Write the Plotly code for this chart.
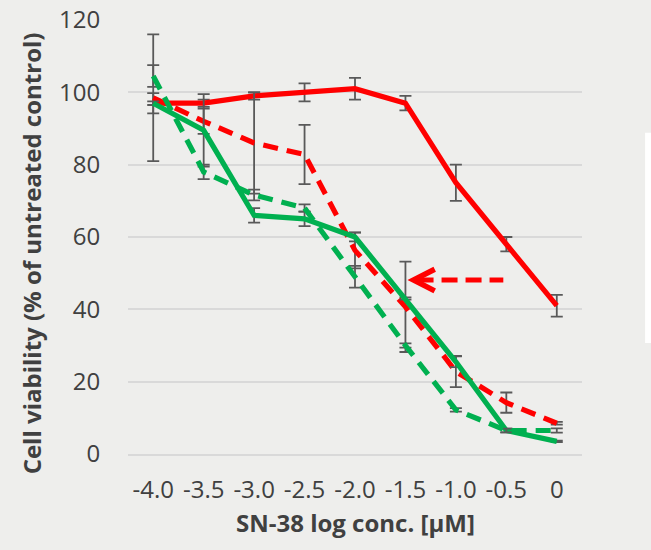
import plotly.graph_objects as go

# ---- data ----
log_conc = [-4.0, -3.5, -3.0, -2.5, -2.0, -1.5, -1.0, -0.5, 0.0]
tick_labels = ["-4.0", "-3.5", "-3.0", "-2.5", "-2.0", "-1.5", "-1.0", "-0.5", "0"]

red_solid = [97.0, 97.0, 99.0, 100.0, 101.0, 97.0, 75.0, 58.0, 41.0]
red_solid_err = [2.8, 1.0, 1.0, 2.5, 3.0, 2.0, 5.0, 2.0, 3.0]

red_dashed = [98.5, 92.0, 86.0, 82.8, 56.3, 40.7, 22.8, 14.2, 8.5]
red_dashed_err = [17.5, 3.5, 14.0, 8.2, 5.0, 12.5, 4.3, 2.8, 0.4]

green_solid = [97.0, 89.5, 66.0, 65.0, 60.0, 43.0, 25.5, 6.5, 3.5]
green_solid_err = [0.5, 10.0, 2.0, 2.0, 1.2, 0.3, 1.5, 0.5, 0.2]

green_dashed = [104.5, 78.0, 71.6, 68.0, 49.0, 30.0, 12.2, 6.5, 6.5]
green_dashed_err = [3.0, 2.0, 1.5, 1.0, 3.0, 0.6, 0.5, 0.5, 0.6]

RED = "#FF0000"
GREEN = "#00B050"
ERR = "#595959"
BG = "#EEEEEC"
TXT = "#404040"
DASH = "15px,9px"

fig = go.Figure()

def add(y, err, color, dash):
    fig.add_trace(go.Scatter(
        x=log_conc, y=y, mode="lines",
        line=dict(color=color, width=5.2, dash=dash),
        error_y=dict(type="data", array=err, visible=True,
                     color=ERR, thickness=1.8, width=6),
        showlegend=False, hoverinfo="skip"))

add(red_solid, red_solid_err, RED, "solid")
add(red_dashed, red_dashed_err, RED, DASH)
add(green_solid, green_solid_err, GREEN, "solid")
add(green_dashed, green_dashed_err, GREEN, DASH)

# arrow (dashed shaft + chevron head)
arrow_tip = (-1.42, 48.1)
arrow_tail_x = -0.53
fig.add_shape(type="line", xref="x", yref="y",
              x0=arrow_tip[0] + 0.04, y0=arrow_tip[1], x1=arrow_tail_x, y1=arrow_tip[1],
              line=dict(color=RED, width=5, dash="16px,8px"))
fig.add_shape(type="path", xref="x", yref="y",
              path=f"M {arrow_tip[0]+0.21} {arrow_tip[1]+3.0} L {arrow_tip[0]} {arrow_tip[1]} L {arrow_tip[0]+0.21} {arrow_tip[1]-3.0}",
              line=dict(color=RED, width=5.5))

# clipped white box at right edge
fig.add_shape(type="rect", xref="paper", yref="paper",
              x0=1.139, x1=1.16, y0=0.256, y1=0.74,
              fillcolor="white", line=dict(width=0))

fig.update_layout(
    width=651, height=550,
    margin=dict(l=128, r=69, t=20, b=96),
    paper_bgcolor=BG, plot_bgcolor=BG,
    font=dict(family="Open Sans", color=TXT, size=24),
    xaxis=dict(range=[-4.25, 0.25], tickvals=log_conc, ticktext=tick_labels,
               showgrid=False, zeroline=False, showline=True, automargin=False,
               linecolor="#D9D9D9", linewidth=1.5,
               ticks="outside", ticklen=13, tickcolor="rgba(0,0,0,0)",
               tickfont=dict(size=24, color=TXT)),
    yaxis=dict(range=[0, 120], tickvals=[0, 20, 40, 60, 80, 100, 120],
               showgrid=True, gridcolor="#D9D9D9", gridwidth=1.5, automargin=False,
               zeroline=False, showline=False,
               ticks="outside", ticklen=22, tickcolor="rgba(0,0,0,0)",
               tickfont=dict(size=24, color=TXT)),
    annotations=[
        dict(text="<b>SN-38 log conc. [µM]</b>", xref="paper", yref="paper",
             x=0.5, y=-0.157, xanchor="center", yanchor="middle", showarrow=False,
             font=dict(size=24, color=TXT)),
        dict(text="<b>Cell viability (% of untreated control)</b>", xref="paper", yref="paper",
             x=-0.213, y=0.463, xanchor="center", yanchor="middle", showarrow=False,
             textangle=-90, font=dict(size=24, color=TXT)),
    ],
)

fig.write_html("out.html")
